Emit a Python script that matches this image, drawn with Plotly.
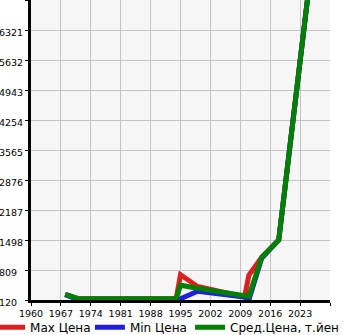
import plotly.graph_objects as go

years_max = [1968, 1971, 1994, 1995, 1999, 2010, 2011, 2014, 2018, 2025]
max_price = [250, 150, 155, 700, 430, 190, 690, 1100, 1498, 7250]
years_min = [1968, 1971, 1994, 1995, 1999, 2010, 2011, 2014, 2018, 2025]
min_price = [240, 130, 140, 150, 320, 190, 120, 1080, 1498, 7250]
years_avg = [1968, 1971, 1994, 1995, 1999, 2010, 2011, 2014, 2018, 2025]
avg_price = [250, 150, 155, 460, 390, 190, 200, 1100, 1498, 7250]

x_ticks = [1960, 1967, 1974, 1981, 1988, 1995, 2002, 2009, 2016, 2023, 2030]
x_labels = ["1960", "1967", "1974", "1981", "1988", "1995", "2002", "2009", "2016", "2023", ""]
y_ticks = [120, 809, 1498, 2187, 2876, 3565, 4254, 4943, 5632, 6321, 7010]
y_labels = ["120\u2007", "809\u2007", "1498", "2187", "2876", "3565", "4254", "4943", "5632", "6321", ""]

RED = "#dd1f1f"
BLUE = "#1f1fdd"
GREEN = "#008000"

fig = go.Figure()
fig.add_trace(go.Scatter(x=years_max, y=max_price, mode="lines", name="Max Цена",
                         line=dict(color=RED, width=5), legend="legend"))
fig.add_trace(go.Scatter(x=years_min, y=min_price, mode="lines", name="Min Цена",
                         line=dict(color=BLUE, width=5), legend="legend2"))
fig.add_trace(go.Scatter(x=years_avg, y=avg_price, mode="lines", name="Сред.Цена, т.йен",
                         line=dict(color=GREEN, width=5), legend="legend3"))

leg_common = dict(orientation="h", xanchor="left", y=-0.091, yanchor="middle",
                  font=dict(size=12), itemwidth=30, borderwidth=0,
                  bgcolor="rgba(0,0,0,0)")

fig.update_layout(
    width=345, height=335,
    margin=dict(l=31, r=15, t=0, b=35, autoexpand=False),
    paper_bgcolor="white", plot_bgcolor="#f6f6f6",
    font=dict(family="DejaVu Sans", size=9.5, color="black"),
    showlegend=True,
    legend=dict(x=-0.137, **leg_common),
    legend2=dict(x=0.197, **leg_common),
    legend3=dict(x=0.532, **leg_common),
)
fig.update_xaxes(range=[1960, 2030], tickvals=x_ticks, ticktext=x_labels, tickangle=0,
                 showgrid=True, gridcolor="#c4c4c4", gridwidth=1,
                 showline=True, linecolor="black", linewidth=3,
                 ticks="outside", ticklen=3, tickcolor="black", zeroline=False)
fig.update_yaxes(range=[120, 7010], tickvals=y_ticks, ticktext=y_labels,
                 showgrid=True, gridcolor="#c4c4c4", gridwidth=1,
                 showline=True, linecolor="black", linewidth=3,
                 ticks="outside", ticklen=3, tickcolor="black", zeroline=False,
                 ticklabelshift=3)

fig.write_html("out.html")
